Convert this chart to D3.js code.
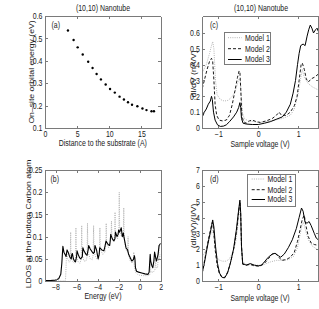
<!DOCTYPE html>
<html><head><meta charset="utf-8">
<script src="https://cdn.jsdelivr.net/npm/d3@7"></script>
<style>body{margin:0;background:#fff}svg{display:block}</style>
</head><body>
<script>
// ---------------- DATA ----------------
const titleText = "(10,10) Nanotube";
const modelNames = ["Model 1", "Model 2", "Model 3"];

// (a) on-site orbital energy vs distance
const aDistance = [3.57,4.45,5.08,5.87,6.72,7.40,8.03,8.70,9.44,10.12,10.86,11.60,12.28,12.91,13.54,14.37,15.16,15.79,16.57,16.95];
const aEnergy   = [0.535,0.493,0.460,0.428,0.396,0.368,0.341,0.317,0.294,0.274,0.258,0.240,0.227,0.215,0.204,0.197,0.187,0.180,0.175,0.175];
const aXTicks = [0,5,10,15];
const aYTicks = [0.1,0.2,0.3,0.4,0.5,0.6];

// (b) LDOS at bottom carbon atom
const bSolid = [[-9,0.001],[-8.5,0.001],[-8,0.002],[-7.7,0.005],[-7.5,0.015],[-7.4,0.04],[-7.3,0.078],[-7.2,0.065],[-7.1,0.06],[-7.0,0.055],[-6.9,0.07],[-6.8,0.065],[-6.7,0.058],[-6.6,0.052],[-6.5,0.05],[-6.45,0.06],[-6.4,0.062],[-6.3,0.05],[-6.2,0.045],[-6.1,0.043],[-6.0,0.055],[-5.95,0.068],[-5.85,0.06],[-5.7,0.052],[-5.6,0.05],[-5.45,0.055],[-5.4,0.075],[-5.3,0.068],[-5.1,0.06],[-5.0,0.058],[-4.9,0.07],[-4.85,0.08],[-4.7,0.072],[-4.5,0.065],[-4.4,0.062],[-4.3,0.065],[-4.25,0.08],[-4.1,0.07],[-3.95,0.05],[-3.85,0.06],[-3.8,0.075],[-3.6,0.07],[-3.4,0.068],[-3.3,0.078],[-3.2,0.09],[-3.0,0.082],[-2.85,0.08],[-2.8,0.09],[-2.75,0.105],[-2.6,0.095],[-2.45,0.09],[-2.35,0.095],[-2.3,0.11],[-2.15,0.1],[-2.05,0.105],[-2.0,0.115],[-1.9,0.11],[-1.75,0.12],[-1.65,0.1],[-1.55,0.108],[-1.5,0.1],[-1.3,0.075],[-1.15,0.07],[-1.05,0.06],[-0.95,0.055],[-0.85,0.05],[-0.75,0.045],[-0.6,0.048],[-0.5,0.057],[-0.45,0.05],[-0.4,0.03],[-0.3,0.022],[-0.1,0.02],[0.2,0.018],[0.5,0.016],[0.8,0.015],[0.9,0.02],[0.95,0.04],[1.0,0.06],[1.05,0.045],[1.15,0.035],[1.25,0.03],[1.35,0.045],[1.42,0.065],[1.5,0.055],[1.6,0.045],[1.75,0.06],[1.85,0.08],[2.0,0.085]];
const bDotted = [[-9,0],[-7.2,0],[-7.05,0.002],[-7.0,0.03],[-6.95,0.065],[-6.85,0.05],[-6.7,0.042],[-6.6,0.045],[-6.56,0.11],[-6.53,0.06],[-6.4,0.045],[-6.2,0.04],[-6.1,0.045],[-6.06,0.12],[-6.02,0.06],[-5.9,0.045],[-5.7,0.04],[-5.55,0.048],[-5.51,0.125],[-5.47,0.06],[-5.3,0.045],[-5.1,0.045],[-5.0,0.055],[-4.96,0.13],[-4.92,0.065],[-4.7,0.05],[-4.5,0.048],[-4.42,0.06],[-4.38,0.125],[-4.34,0.065],[-4.1,0.05],[-3.9,0.048],[-3.82,0.065],[-3.78,0.12],[-3.74,0.07],[-3.5,0.06],[-3.3,0.065],[-3.22,0.08],[-3.18,0.13],[-3.14,0.085],[-2.95,0.075],[-2.8,0.09],[-2.72,0.1],[-2.68,0.135],[-2.64,0.1],[-2.5,0.09],[-2.38,0.1],[-2.34,0.155],[-2.3,0.105],[-2.1,0.095],[-1.98,0.11],[-1.94,0.2],[-1.9,0.11],[-1.7,0.1],[-1.55,0.1],[-1.51,0.165],[-1.47,0.095],[-1.3,0.07],[-1.15,0.065],[-1.1,0.1],[-1.06,0.06],[-0.9,0.045],[-0.7,0.04],[-0.6,0.05],[-0.56,0.065],[-0.52,0.035],[-0.4,0.02],[-0.2,0.015],[0,0.013],[0.4,0.012],[0.8,0.012],[0.98,0.015],[1.02,0.058],[1.06,0.02],[1.3,0.02],[1.45,0.025],[1.5,0.06],[1.54,0.03],[1.7,0.03],[1.76,0.05],[1.8,0.08],[1.85,0.05],[2,0.06]];
const bXTicks = [-8,-6,-4,-2,0,2];
const bYTicks = [0,0.05,0.1,0.15,0.2,0.25];

// (c) dI/dV
const cModel1 = [[-1.4,0.35],[-1.3,0.4],[-1.22,0.47],[-1.17,0.52],[-1.14,0.545],[-1.11,0.5],[-1.07,0.3],[-1.03,0.21],[-0.95,0.18],[-0.85,0.17],[-0.75,0.175],[-0.65,0.2],[-0.58,0.23],[-0.52,0.28],[-0.48,0.31],[-0.45,0.3],[-0.43,0.22],[-0.4,0.1],[-0.35,0.06],[-0.25,0.045],[-0.1,0.04],[0,0.035],[0.2,0.04],[0.4,0.05],[0.6,0.06],[0.8,0.08],[0.9,0.12],[1.0,0.22],[1.05,0.3],[1.1,0.37],[1.15,0.32],[1.25,0.28],[1.35,0.26],[1.5,0.24]];
const cModel2 = [[-1.4,0.25],[-1.35,0.3],[-1.28,0.37],[-1.22,0.42],[-1.17,0.44],[-1.14,0.42],[-1.11,0.3],[-1.08,0.15],[-1.04,0.08],[-0.98,0.05],[-0.9,0.045],[-0.8,0.05],[-0.72,0.08],[-0.65,0.15],[-0.58,0.24],[-0.52,0.32],[-0.48,0.36],[-0.46,0.355],[-0.44,0.25],[-0.41,0.08],[-0.37,0.04],[-0.3,0.03],[-0.22,0.045],[-0.15,0.05],[-0.05,0.04],[0.05,0.035],[0.2,0.045],[0.35,0.06],[0.45,0.08],[0.52,0.1],[0.58,0.08],[0.7,0.08],[0.8,0.1],[0.9,0.14],[0.97,0.2],[1.02,0.3],[1.07,0.4],[1.1,0.41],[1.15,0.37],[1.2,0.31],[1.25,0.29],[1.32,0.31],[1.4,0.32],[1.5,0.34]];
const cModel3 = [[-1.4,0.07],[-1.35,0.1],[-1.3,0.12],[-1.25,0.15],[-1.2,0.17],[-1.17,0.2],[-1.15,0.18],[-1.12,0.1],[-1.08,0.05],[-1.02,0.02],[-0.95,0.01],[-0.87,0.012],[-0.8,0.02],[-0.72,0.04],[-0.62,0.07],[-0.54,0.1],[-0.49,0.13],[-0.46,0.16],[-0.44,0.13],[-0.42,0.06],[-0.38,0.03],[-0.3,0.025],[-0.15,0.022],[0,0.022],[0.15,0.03],[0.3,0.04],[0.45,0.055],[0.6,0.07],[0.7,0.1],[0.8,0.15],[0.87,0.22],[0.93,0.3],[0.98,0.4],[1.02,0.47],[1.06,0.52],[1.12,0.53],[1.17,0.52],[1.22,0.58],[1.26,0.62],[1.3,0.65],[1.34,0.63],[1.38,0.6],[1.43,0.62],[1.47,0.63],[1.5,0.61]];
const cXTicks = [-1,0,1];
const cYTicks = [0,0.1,0.2,0.3,0.4,0.5,0.6];

// (d) (dI/dV)/(I/V)
const dModel1 = [[-1.4,1.5],[-1.3,2.0],[-1.22,2.7],[-1.17,3.1],[-1.14,3.2],[-1.1,2.6],[-1.05,1.6],[-1.0,1.35],[-0.9,1.25],[-0.8,1.25],[-0.72,1.4],[-0.64,1.8],[-0.57,2.4],[-0.52,3.3],[-0.48,4.3],[-0.455,4.9],[-0.44,4.0],[-0.42,2.0],[-0.39,1.2],[-0.3,1.05],[-0.1,1.0],[0.1,1.0],[0.3,1.2],[0.45,1.3],[0.6,1.3],[0.75,1.35],[0.88,1.55],[0.98,2.1],[1.05,3.0],[1.1,3.6],[1.13,3.7],[1.18,3.2],[1.25,2.6],[1.35,2.2],[1.5,1.95]];
const dModel2 = [[-1.4,0.5],[-1.35,1.2],[-1.3,1.9],[-1.24,2.7],[-1.18,3.4],[-1.15,3.7],[-1.12,3.3],[-1.08,2.0],[-1.03,1.0],[-0.97,0.45],[-0.9,0.2],[-0.83,0.25],[-0.76,0.6],[-0.68,1.3],[-0.6,2.2],[-0.53,3.4],[-0.49,4.4],[-0.46,5.0],[-0.44,4.2],[-0.42,2.2],[-0.39,1.05],[-0.3,1.0],[-0.2,1.05],[-0.1,0.95],[0.05,0.95],[0.15,1.1],[0.25,1.4],[0.35,1.7],[0.42,1.75],[0.5,1.55],[0.58,1.3],[0.7,1.35],[0.8,1.5],[0.9,1.8],[0.98,2.5],[1.05,3.3],[1.1,3.9],[1.15,4.15],[1.19,3.5],[1.25,2.8],[1.32,2.4],[1.4,2.3],[1.5,2.25]];
const dModel3 = [[-1.4,0.55],[-1.35,1.1],[-1.3,1.8],[-1.24,2.6],[-1.18,3.3],[-1.14,3.85],[-1.11,3.4],[-1.07,2.2],[-1.02,1.1],[-0.97,0.5],[-0.9,0.22],[-0.84,0.2],[-0.77,0.5],[-0.7,1.1],[-0.62,2.0],[-0.55,3.2],[-0.5,4.3],[-0.46,5.1],[-0.44,4.3],[-0.42,2.2],[-0.39,1.1],[-0.3,1.0],[-0.2,1.1],[-0.1,1.0],[0,0.95],[0.08,1.0],[0.15,1.2],[0.25,1.5],[0.35,1.7],[0.42,1.75],[0.5,1.6],[0.56,1.5],[0.65,1.7],[0.75,2.1],[0.85,2.6],[0.95,3.3],[1.02,4.0],[1.08,4.6],[1.12,4.4],[1.17,3.7],[1.22,3.65],[1.27,3.75],[1.32,3.5],[1.4,3.0],[1.45,2.7],[1.5,2.6]];
const dXTicks = [-1,0,1];
const dYTicks = [0,1,2,3,4,5,6,7];

// ---------------- DRAWING ----------------
const W = 319, H = 309;
const FONT = '"Liberation Sans", Arial, Helvetica, sans-serif';
const FS = 8.4, SX = 0.83, AX = '#7a7a7a', TXT = '#1a1a1a';
const styles = [
  {stroke:'#b4b4b4', dash:'1,1.2', width:1},
  {stroke:'#000', dash:'3,2', width:0.9},
  {stroke:'#000', dash:null, width:1}
];

const svg = d3.select('body').append('svg').attr('width', W).attr('height', H)
  .style('font-family', FONT);

function hText(parent, x, y, s, anchor) {
  return parent.append('text')
    .attr('transform', `translate(${x},${y}) scale(${SX},1)`)
    .attr('text-anchor', anchor || 'middle')
    .attr('font-size', FS).attr('fill', TXT).text(s);
}
function vText(parent, x, y, s) {
  return parent.append('text')
    .attr('transform', `translate(${x},${y}) rotate(-90) scale(1.03,0.85)`)
    .attr('text-anchor', 'middle')
    .attr('font-size', FS).attr('fill', TXT).text(s);
}
function styleAxis(a) {
  a.attr('font-size', FS).attr('font-family', FONT);
  a.select('.domain').attr('stroke', AX).attr('shape-rendering', 'crispEdges');
  a.selectAll('.tick line').attr('stroke', AX).attr('shape-rendering', 'crispEdges');
  a.selectAll('.tick text').attr('fill', TXT).each(function () {
    const t = d3.select(this);
    const x = +t.attr('x') || 0;
    t.attr('x', 0).attr('transform', `translate(${x},0) scale(${SX},1)`);
  });
}
const fmt = d => String(+d.toFixed(4)).replace('-', '\u2212');

function panel(o) {
  const w = o.right - o.left, h = o.bottom - o.top;
  const g = svg.append('g').attr('transform', `translate(${o.left},${o.top})`);
  const x = d3.scaleLinear().domain(o.xd).range([0, w]);
  const y = d3.scaleLinear().domain(o.yd).range([h, 0]);
  const cid = 'clip' + o.id;
  svg.append('clipPath').attr('id', cid).append('rect').attr('width', w).attr('height', h);
  const plot = g.append('g').attr('clip-path', `url(#${cid})`);
  const ts = -2.5;
  styleAxis(g.append('g').attr('transform', `translate(0,${h})`)
    .call(d3.axisBottom(x).tickValues(o.xt).tickSize(ts).tickSizeOuter(0).tickPadding(2.6).tickFormat(fmt)));
  styleAxis(g.append('g')
    .call(d3.axisTop(x).tickValues(o.xt).tickSize(ts).tickSizeOuter(0).tickFormat(() => '')));
  styleAxis(g.append('g')
    .call(d3.axisLeft(y).tickValues(o.yt).tickSize(ts).tickSizeOuter(0).tickPadding(2.5).tickFormat(fmt)));
  styleAxis(g.append('g').attr('transform', `translate(${w},0)`)
    .call(d3.axisRight(y).tickValues(o.yt).tickSize(ts).tickSizeOuter(0).tickFormat(() => '')));
  return {g, x, y, plot, w, h};
}

function drawLine(p, data, st) {
  const line = d3.line().x(d => p.x(d[0])).y(d => p.y(d[1]));
  p.plot.append('path').datum(data).attr('d', line).attr('fill', 'none')
    .attr('stroke', st.stroke).attr('stroke-width', st.width)
    .attr('stroke-dasharray', st.dash).attr('stroke-linejoin', 'round');
}

function legend(x0, y0, w, h, rows, lx0, lx1, tx) {
  const lg = svg.append('g');
  lg.append('rect').attr('x', x0).attr('y', y0).attr('width', w).attr('height', h)
    .attr('fill', '#fff').attr('stroke', AX).attr('stroke-width', 1).attr('shape-rendering', 'crispEdges');
  modelNames.forEach((nm, i) => {
    const st = styles[i];
    lg.append('line').attr('x1', lx0).attr('x2', lx1).attr('y1', rows[i]).attr('y2', rows[i])
      .attr('stroke', st.stroke).attr('stroke-width', st.width).attr('stroke-dasharray', st.dash);
    hText(lg, tx, rows[i] + 2.9, nm, 'start');
  });
}

// Panel (a)
const pa = panel({id:'a', left:45, right:160.7, top:16, bottom:128, xd:[0,18], yd:[0.1,0.6], xt:aXTicks, yt:aYTicks});
pa.plot.selectAll('circle').data(aDistance).join('circle')
  .attr('cx', d => pa.x(d)).attr('cy', (d, i) => pa.y(aEnergy[i])).attr('r', 1.2).attr('fill', '#000');
hText(svg, 103, 11, titleText);
hText(svg, 51.5, 27.5, '(a)', 'start');
hText(svg, 102.8, 146, 'Distance to the substrate (A)');
vText(svg, 34, 72, 'On\u2013site orbital energy (eV)');

// Panel (b)
const pb = panel({id:'b', left:45, right:160.7, top:170, bottom:281, xd:[-9,2], yd:[0,0.25], xt:bXTicks, yt:bYTicks});
drawLine(pb, bDotted, styles[0]);
drawLine(pb, bSolid, {stroke:'#000', dash:null, width:1.1});
hText(svg, 50.5, 182, '(b)', 'start');
hText(svg, 103, 298.5, 'Energy (eV)');
vText(svg, 30.5, 224, 'LDOS at the bottom Carbon atom');

// Panel (c)
const pc = panel({id:'c', left:202.3, right:318.3, top:16, bottom:128, xd:[-1.4,1.5], yd:[0,0.707], xt:cXTicks, yt:cYTicks});
drawLine(pc, cModel1, styles[0]);
drawLine(pc, cModel2, styles[1]);
drawLine(pc, cModel3, styles[2]);
hText(svg, 261, 11, titleText);
hText(svg, 210, 27.5, '(c)', 'start');
hText(svg, 260, 146.5, 'Sample voltage (V)');
vText(svg, 195.5, 74, 'dI/dV (nA/V)');
legend(224.3, 32.3, 45.7, 31.7, [37.7, 48.7, 59.5], 228, 241.7, 245);

// Panel (d)
const pd = panel({id:'d', left:202.3, right:318.3, top:170, bottom:281, xd:[-1.4,1.5], yd:[0,7], xt:dXTicks, yt:dYTicks});
drawLine(pd, dModel1, styles[0]);
drawLine(pd, dModel2, styles[1]);
drawLine(pd, dModel3, styles[2]);
hText(svg, 210, 181.5, '(d)', 'start');
hText(svg, 260, 300.5, 'Sample voltage (V)');
vText(svg, 196, 226, '(dI/dV)/(I/V)');
legend(247.7, 174, 47.3, 32, [179, 189.7, 199.5], 251.7, 265, 267.5);
</script>
</body></html>
